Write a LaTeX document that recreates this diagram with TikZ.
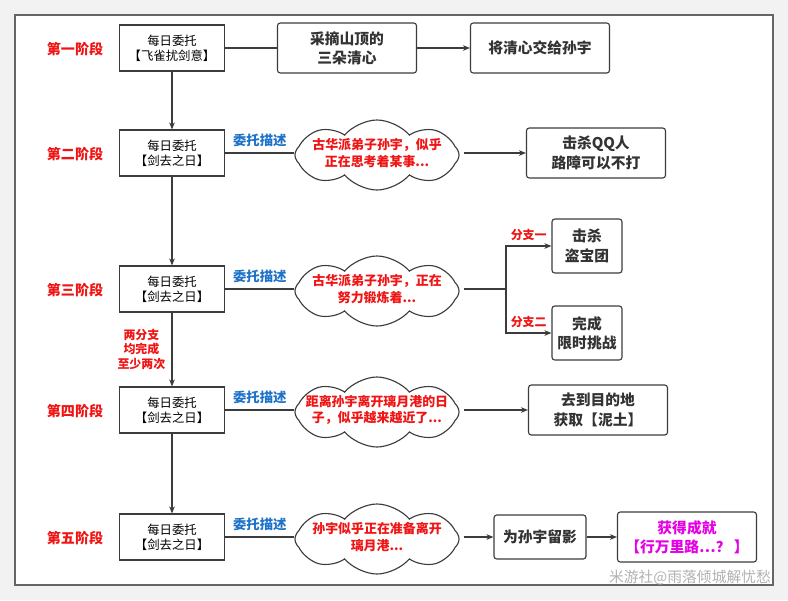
\documentclass[tikz,border=0pt]{standalone}
\usepackage{fontspec}
\setmainfont{Noto Sans CJK SC}
\usetikzlibrary{positioning,arrows.meta,shapes.symbols}

\definecolor{stagered}{RGB}{240,20,20}
\definecolor{descblue}{RGB}{30,115,200}
\definecolor{achvpink}{RGB}{230,0,230}
\definecolor{linegray}{RGB}{60,60,60}

\begin{document}
\begin{tikzpicture}[
    x=0.025cm, y=-0.025cm,
    stage/.style={
        font=\fontsize{10}{12}\selectfont\bfseries,
        text=stagered
    },
    daily/.style={
        rectangle,
        draw=linegray,
        fill=white,
        line width=0.8pt,
        minimum width=2.625cm,
        minimum height=1.15cm,
        align=center,
        font=\fontsize{8.8}{10.8}\selectfont
    },
    task/.style={
        rectangle,
        rounded corners=2pt,
        draw=linegray,
        fill=white,
        line width=0.8pt,
        minimum width=3.475cm,
        minimum height=1.25cm,
        align=center,
        font=\fontsize{10.5}{13.8}\selectfont\bfseries,
        text=black!80
    },
    thought/.style={
        cloud,
        cloud puffs=8,
        cloud puff arc=100,
        cloud ignores aspect,
        draw=linegray,
        fill=white,
        line width=0.8pt,
        minimum width=4.1cm,
        minimum height=1.75cm,
        inner sep=0pt
    },
    thoughttext/.style={
        align=center,
        text=stagered,
        font=\fontsize{9.2}{11.8}\selectfont\bfseries
    },
    desc/.style={
        text=descblue,
        font=\fontsize{9.5}{11}\selectfont\bfseries
    },
    note/.style={
        text=stagered,
        align=center,
        font=\fontsize{8.5}{10.5}\selectfont\bfseries
    },
    arrow/.style={
        -{Stealth[length=5pt,width=4pt]},
        line width=0.8pt,
        draw=linegray
    },
    link/.style={
        line width=0.8pt,
        draw=linegray
    }
]

% Page background and frame
\fill[black!5] (0,0) rectangle (788,600);
\draw[fill=white, draw=black!60, line width=0.9pt] (15,15) rectangle (773,585);
\useasboundingbox (0,0) rectangle (788,600);

% Stage 1
\node[stage] (s1) at (75,49) {第一阶段};
\node[daily] (d1) at (172,48) {每日委托\\【飞雀扰剑意】};
\node[task] (t1a) at (347,48) {采摘山顶的\\三朵清心};
\node[task] (t1b) at (540,48) {将清心交给孙宇};

\draw[link] (d1) -- (t1a);
\draw[arrow] (t1a) -- (t1b);

% Stage 2
\node[stage] (s2) at (75,154) {第二阶段};
\node[daily] (d2) at (172,153) {每日委托\\【剑去之日】};
\node[thought] (c2) at (377,155) {};
\node[thoughttext] (c2txt) at (377,153) {古华派弟子孙宇，似乎\\正在思考着某事...};
\node[task] (t2) at (596,153) {击杀QQ人\\路障可以不打};

\draw[link] (d2) -- node[desc, midway, above=1pt] {委托描述} (d2 -| c2.west);
\draw[arrow] (c2.east |- t2) ++(4,0) -- (t2);

% Stage 3
\node[stage] (s3) at (75,290) {第三阶段};
\node[daily] (d3) at (172,289) {每日委托\\【剑去之日】};
\node[thought] (c3) at (377,291) {};
\node[thoughttext] (c3txt) at (377,289) {古华派弟子孙宇，正在\\努力锻炼着...};
\node[task, minimum width=1.75cm, minimum height=1.35cm] (t3a) at (587,246) {击杀\\盗宝团};
\node[task, minimum width=1.75cm, minimum height=1.35cm] (t3b) at (587,333) {完成\\限时挑战};
\coordinate (br3) at (506,289);

\draw[link] (d3) -- node[desc, midway, above=1pt] {委托描述} (d3 -| c3.west);
\draw[link] (c3.east |- br3) ++(4,0) -- (br3);
\draw[arrow] (br3) |- node[note, pos=0.75, above=0pt] {分支一} (t3a);
\draw[arrow] (br3) |- node[note, pos=0.75, above=0pt] {分支二} (t3b);

% Stage 4
\node[stage] (s4) at (75,411) {第四阶段};
\node[daily] (d4) at (172,410) {每日委托\\【剑去之日】};
\node[thought] (c4) at (377,412) {};
\node[thoughttext] (c4txt) at (377,410) {距离孙宇离开璃月港的日\\子，似乎越来越近了...};
\node[task] (t4) at (598,410) {去到目的地\\获取【泥土】};

\draw[link] (d4) -- node[desc, midway, above=1pt] {委托描述} (d4 -| c4.west);
\draw[arrow] (c4.east |- t4) ++(4,0) -- (t4);

% Stage 5
\node[stage] (s5) at (75,538) {第五阶段};
\node[daily] (d5) at (172,537) {每日委托\\【剑去之日】};
\node[thought] (c5) at (377,539) {};
\node[thoughttext] (c5txt) at (377,537) {孙宇似乎正在准备离开\\璃月港...};
\node[task, minimum width=2.3cm, minimum height=1.1cm] (t5a) at (540,537) {为孙宇留影};
\node[task, text=achvpink] (t5b) at (687,537) {获得成就\\【行万里路⋯？ 】};

\draw[link] (d5) -- node[desc, midway, above=1pt] {委托描述} (d5 -| c5.west);
\draw[arrow] (c5.east |- t5a) ++(4,0) -- (t5a);
\draw[arrow] (t5a) -- (t5b);

% Daily chain down the left
\draw[arrow] (d1) -- (d2);
\draw[arrow] (d2) -- (d3);
\draw[arrow] (d3) -- node[note, midway, left=1pt] {两分支\\均完成\\至少两次} (d4);
\draw[arrow] (d4) -- (d5);

% Watermark
\node[text=black!30, font=\fontsize{10.5}{12}\selectfont] (mark) at (690,578) {米游社@雨落倾城解忧愁};

\end{tikzpicture}
\end{document}
